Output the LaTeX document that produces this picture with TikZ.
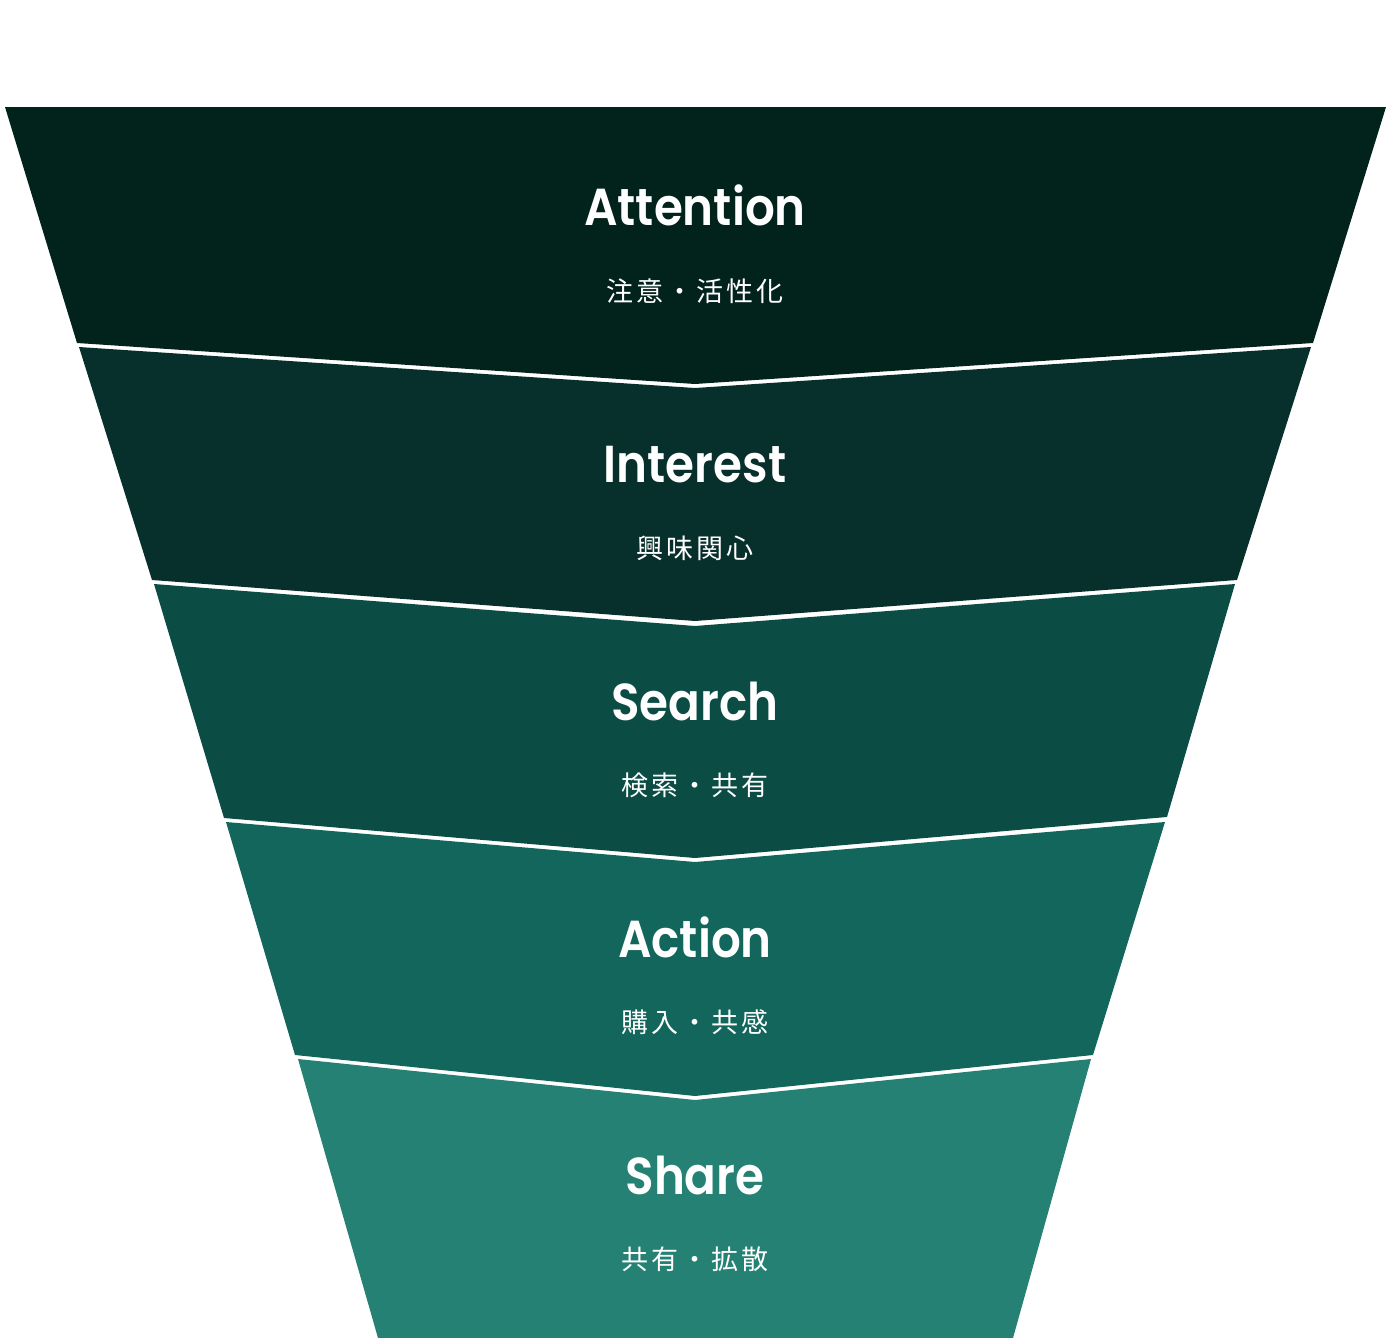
\documentclass[tikz,border=0pt]{standalone}
\usepackage{fontspec}
\newfontfamily\headfont[FakeStretch=0.9]{Poppins SemiBold}
\newfontfamily\jpfont[LetterSpace=11]{Noto Sans CJK JP}
\definecolor{bandA}{HTML}{02221C}
\definecolor{bandB}{HTML}{072F2B}
\definecolor{bandC}{HTML}{0B4C45}
\definecolor{bandD}{HTML}{12665B}
\definecolor{bandE}{HTML}{258173}
\begin{document}
\begin{tikzpicture}[x=1pt,y=-1pt,
  head/.style={text=white,font=\headfont\fontsize{52}{52}\selectfont,anchor=base,inner sep=0pt},
  sub/.style={text=white,font=\jpfont\fontsize{27}{27}\selectfont,anchor=base,inner sep=0pt}]
\useasboundingbox (0,0) rectangle (1392,1338);
\fill[bandA] (5,107) -- (1386,107) -- (1313,343) -- (695,384) -- (77,343) -- cycle;
\fill[bandB] (79,347) -- (695,388) -- (1311,347) -- (1237,580) -- (695,621) -- (152,580) -- cycle;
\fill[bandC] (154,584) -- (695,626) -- (1235,584) -- (1167,817) -- (695,858) -- (224,818) -- cycle;
\fill[bandD] (226,822) -- (695,862) -- (1165,822) -- (1093,1055) -- (695,1096) -- (295,1055) -- cycle;
\fill[bandE] (298,1059) -- (695,1100) -- (1091,1059) -- (1013,1338) -- (378,1338) -- cycle;
\node[head] (h1) at (695,225) {Attention};
\node[sub]  (s1) at (695,301) {注意・活性化};
\node[head] (h2) at (695,482) {Interest};
\node[sub]  (s2) at (695,558) {興味関心};
\node[head] (h3) at (695,720) {Search};
\node[sub]  (s3) at (695,795) {検索・共有};
\node[head] (h4) at (695,957) {Action};
\node[sub]  (s4) at (695,1032) {購入・共感};
\node[head] (h5) at (695,1194) {Share};
\node[sub]  (s5) at (695,1269) {共有・拡散};
\end{tikzpicture}
\end{document}
